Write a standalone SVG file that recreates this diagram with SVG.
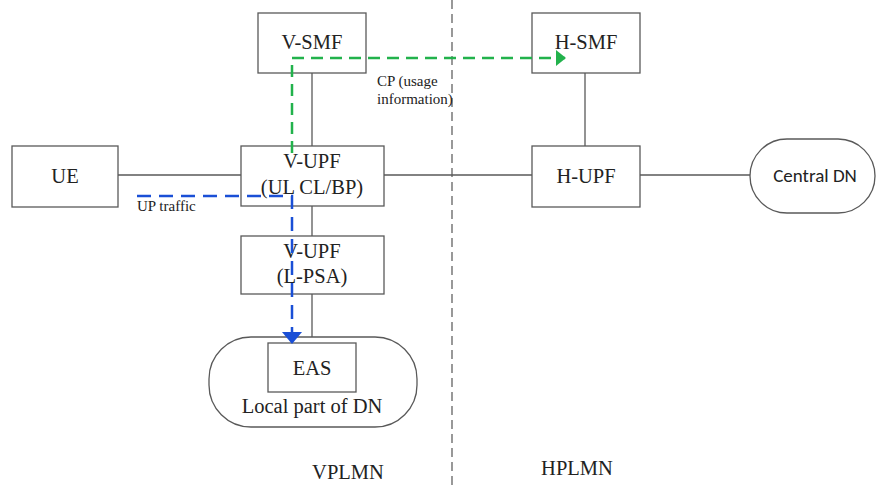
<svg xmlns="http://www.w3.org/2000/svg" width="877" height="485" viewBox="0 0 877 485">
  <style>
    .box { fill: #fff; stroke: #595959; stroke-width: 1.3; }
    .lbl { font-family: "Liberation Serif", "Times New Roman", serif; font-size: 20.5px; fill: #222; text-anchor: middle; }
    .sml { font-family: "Liberation Serif", "Times New Roman", serif; font-size: 15px; fill: #222; }
    .link { stroke: #595959; stroke-width: 1.3; fill: none; }
  </style>
  <defs>
    <marker id="gHead" viewBox="0 0 10 16" refX="9" refY="8" markerWidth="10" markerHeight="16" markerUnits="userSpaceOnUse" orient="auto">
      <path d="M0,0 L10,8 L0,16 z" fill="#22b24c"/>
    </marker>
    <marker id="bHead" viewBox="0 0 12 20" refX="11" refY="10" markerWidth="12" markerHeight="20" markerUnits="userSpaceOnUse" orient="auto">
      <path d="M0,0 L12,10 L0,20 z" fill="#1a4fd6"/>
    </marker>
  </defs>
  <rect width="877" height="485" fill="#fff"/>

  <!-- PLMN boundary -->
  <line x1="452" y1="0" x2="452" y2="485" stroke="#555" stroke-width="1.2" stroke-dasharray="9,5"/>

  <g id="connectors">
    <line class="link" x1="312" y1="73" x2="312" y2="146"/>
    <line class="link" x1="312" y1="206" x2="312" y2="236"/>
    <line class="link" x1="312" y1="294" x2="312" y2="343"/>
    <line class="link" x1="585" y1="73" x2="585" y2="146"/>
    <line class="link" x1="118" y1="175" x2="241" y2="175"/>
    <line class="link" x1="384" y1="175" x2="532" y2="175"/>
    <line class="link" x1="640" y1="175" x2="750" y2="175"/>
  </g>

  <g id="local-dn">
    <rect x="209" y="337" width="208" height="90" rx="42" ry="42" class="box"/>
    <text x="312" y="413" class="lbl">Local part of DN</text>
  </g>
  <g id="central-dn">
    <rect x="750" y="139" width="125" height="74" rx="37" ry="37" class="box"/>
    <text x="815" y="182" font-family="Carlito, 'Liberation Sans', sans-serif" font-size="19" fill="#222" text-anchor="middle">Central DN</text>
  </g>
  <g id="ue">
    <rect x="12" y="146" width="106" height="61" class="box"/>
    <text x="65" y="183" class="lbl">UE</text>
  </g>
  <g id="v-smf">
    <rect x="258" y="13" width="108" height="60" class="box"/>
    <text x="312" y="49" class="lbl">V-SMF</text>
  </g>
  <g id="h-smf">
    <rect x="532" y="13" width="108" height="60" class="box"/>
    <text x="586" y="49" class="lbl">H-SMF</text>
  </g>
  <g id="v-upf-ulcl">
    <rect x="241" y="146" width="143" height="60" class="box"/>
    <text x="312" y="168" class="lbl">V-UPF</text>
    <text x="312" y="194" class="lbl">(UL CL/BP)</text>
  </g>
  <g id="h-upf">
    <rect x="532" y="146" width="108" height="61" class="box"/>
    <text x="586" y="183" class="lbl">H-UPF</text>
  </g>
  <g id="v-upf-psa">
    <rect x="241" y="236" width="143" height="58" class="box"/>
    <text x="312" y="258" class="lbl">V-UPF</text>
    <text x="312" y="283" class="lbl">(L-PSA)</text>
  </g>
  <g id="eas">
    <rect x="268" y="343" width="88" height="49" class="box"/>
    <text x="312" y="375" class="lbl">EAS</text>
  </g>

  <g id="flows">
    <!-- control plane usage report -->
    <path d="M292,153 L292,58 L565,58" fill="none" stroke="#22b24c" stroke-width="2.5" stroke-dasharray="12,7" marker-end="url(#gHead)"/>
    <!-- user plane traffic -->
    <path d="M137,196 L292,196 L292,343" fill="none" stroke="#1a4fd6" stroke-width="2.5" stroke-dasharray="14,8" marker-end="url(#bHead)"/>
  </g>

  <text x="137" y="211" class="sml">UP traffic</text>
  <text x="377" y="86" class="sml">CP (usage</text>
  <text x="377" y="104" class="sml">information)</text>

  <text x="348" y="479" class="lbl">VPLMN</text>
  <text x="577" y="475" class="lbl">HPLMN</text>
</svg>
